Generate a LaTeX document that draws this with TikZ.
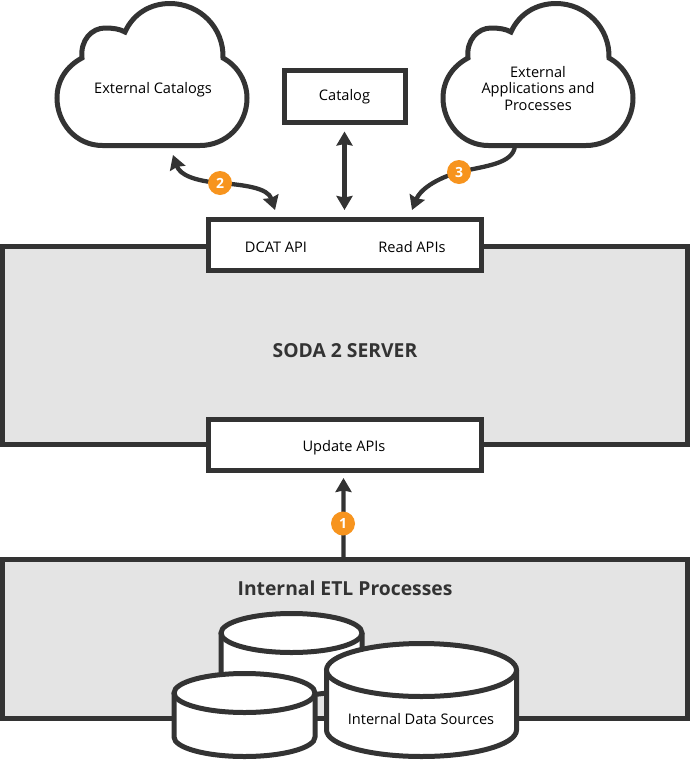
\documentclass[tikz,border=0pt]{standalone}
\usepackage{fontspec}
\setmainfont{Open Sans}
\usetikzlibrary{arrows.meta,positioning}
\definecolor{ink}{HTML}{333333}
\definecolor{panelgray}{HTML}{E4E4E4}
\definecolor{badgeorange}{HTML}{F7941E}
\tikzset{
  line/.style={draw=ink,line width=5pt},
  panel/.style={line,fill=panelgray,minimum width=684.5pt,inner sep=0pt},
  apibox/.style={line,fill=white,minimum width=273pt,minimum height=51pt,inner sep=0pt},
  lab/.style={text=black,font=\fontsize{14.6}{16.5}\selectfont,align=center,inner sep=0pt},
  head/.style={text=ink,font=\fontsize{19.3}{22}\selectfont\bfseries,inner sep=0pt},
  badge/.style={circle,fill=badgeorange,text=white,font=\fontsize{14}{14}\selectfont\bfseries,minimum size=24pt,inner sep=0pt},
  tip/.tip={Stealth[length=14pt,width=16pt,inset=1.5pt]},
  conn/.style={draw=ink,line width=4.3pt,-tip},
  connboth/.style={draw=ink,line width=4.3pt,tip-tip},
  cloudshape/.style={line,fill=white,line join=miter},
  cyl/.style={line,fill=white}
}
\newcommand{\cloudpath}[1]{%
  \path[cloudshape,shift={(#1,0)}] (102.5,145.5)
    .. controls (75,145.5) and (57,122) .. (57,98)
    .. controls (57,80) and (67,66) .. (82,58)
    .. controls (80,40) and (92,28) .. (105,28)
    .. controls (113,28) and (120,29) .. (125,32)
    .. controls (133,14) and (150,3.5) .. (170,3.5)
    .. controls (200,3.5) and (224,28) .. (223,58)
    .. controls (238,66) and (247,82) .. (247,98)
    .. controls (247,125) and (226,145.5) .. (200,145.5)
    -- cycle;}
\newcommand{\cylinder}[5]{% cx, rx, top y, side bottom y, ry
  \path[cyl] (#1-#2,#3) -- (#1-#2,#4) arc[start angle=180,end angle=360,x radius=#2,y radius=-#5] -- (#1+#2,#3);
  \path[cyl] (#1,#3) ellipse[x radius=#2,y radius=#5];}
\begin{document}
\begin{tikzpicture}[x=1pt,y=-1pt]
\useasboundingbox (0,0) rectangle (691,761);
% panels
\node[panel,minimum height=198.5pt] (server) at (344.75,345.5) {};
\node[panel,minimum height=158.5pt] (etl) at (344.75,639) {};
\node[apibox] (apis) at (344.5,245) {};
\node[apibox] (update) at (344.5,444.5) {};
\node[line,fill=white,minimum width=121pt,minimum height=52pt,inner sep=0pt] (catalog) at (344.5,96) {};
% clouds
\cloudpath{0}
\cloudpath{386}
\coordinate (extcatport) at (173,155);
\coordinate (apiportleft) at (275,210);
\coordinate (extappport) at (515,146);
\coordinate (apiportright) at (412,210);
% connectors
\draw[connboth,shorten <=7pt,shorten >=7pt] (catalog.south) -- (apis.north);
\draw[conn,shorten >=5.5pt] ([xshift=-1.2pt]etl.north) -- ([xshift=-1pt]update.south);
\path[draw=ink,line width=4.3pt,tip-tip]
  (extcatport) .. controls (180,175) and (195,181) .. (220,183)
  .. controls (245,185) and (268,188) .. (apiportleft);
\draw[conn] (extappport) .. controls (513,164) and (485,166) .. (459,172)
  .. controls (435,179) and (420,190) .. (apiportright);
% cylinders
\cylinder{291.5}{70.5}{633}{676}{19.5}
\cylinder{244.5}{70.5}{693}{737}{19.5}
\cylinder{421.5}{95}{670}{730}{26.5}
% badges
\node[badge] (b1) at (343,523.5) {1};
\node[badge] (b2) at (220,183) {2};
\node[badge] (b3) at (459,172) {3};
% labels
\node[lab] (l1) at (153,89.5) {External Catalogs};
\node[lab] (l2) at (538,88.5) {External\\Applications and\\Processes};
\node[lab] (l3) at (344.5,97) {Catalog};
\node[lab] (l4) at (276,247.5) {DCAT API};
\node[lab] (l5) at (412,247.5) {Read APIs};
\node[lab] (l6) at (344,447.5) {Update APIs};
\node[lab] (l7) at (421,719.5) {Internal Data Sources};
\node[head] (h1) at (345,351) {SODA 2 SERVER};
\node[head] (h2) at (345,588) {Internal ETL Processes};
\end{tikzpicture}
\end{document}
